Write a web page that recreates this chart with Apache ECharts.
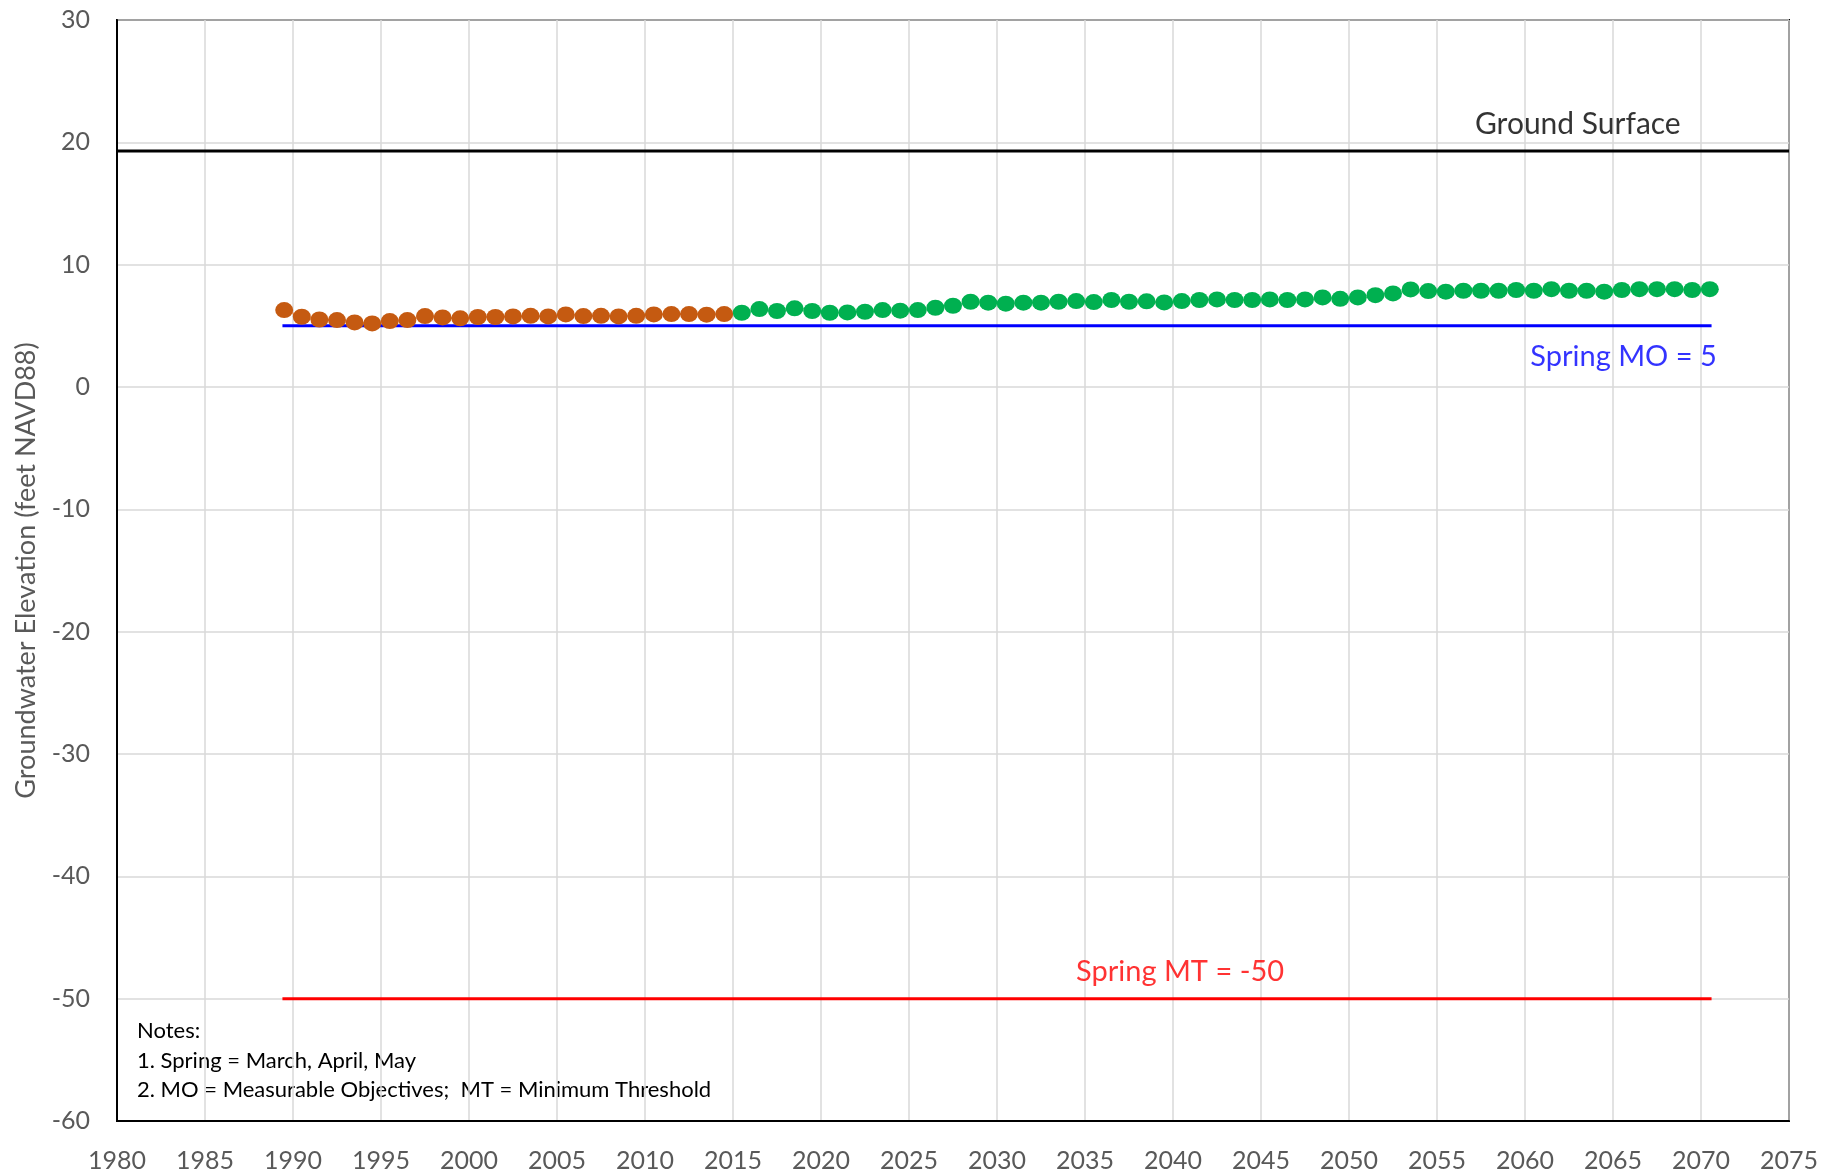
<!DOCTYPE html>
<html>
<head>
<meta charset="utf-8">
<script src="https://cdn.jsdelivr.net/npm/echarts@6/dist/echarts.min.js"></script>
<style>
  html, body { margin: 0; padding: 0; background: #fff; }
  #chart { width: 1843px; height: 1176px; }
</style>
</head>
<body>
<div id="chart"></div>
<script>
// spring groundwater levels, historical (orange) then projected (green)
const histYears = [1989.5, 1990.5, 1991.5, 1992.5, 1993.5, 1994.5, 1995.5, 1996.5, 1997.5, 1998.5,
  1999.5, 2000.5, 2001.5, 2002.5, 2003.5, 2004.5, 2005.5, 2006.5, 2007.5, 2008.5,
  2009.5, 2010.5, 2011.5, 2012.5, 2013.5, 2014.5];
const histLevels = [6.29, 5.74, 5.52, 5.47, 5.28, 5.20, 5.39, 5.47, 5.80, 5.69,
  5.61, 5.72, 5.72, 5.77, 5.82, 5.77, 5.93, 5.80, 5.82, 5.77,
  5.82, 5.93, 5.96, 5.96, 5.91, 5.96];

const projYears = [2015.5, 2016.5, 2017.5, 2018.5, 2019.5, 2020.5, 2021.5, 2022.5, 2023.5, 2024.5,
  2025.5, 2026.5, 2027.5, 2028.5, 2029.5, 2030.5, 2031.5, 2032.5, 2033.5, 2034.5,
  2035.5, 2036.5, 2037.5, 2038.5, 2039.5, 2040.5, 2041.5, 2042.5, 2043.5, 2044.5,
  2045.5, 2046.5, 2047.5, 2048.5, 2049.5, 2050.5, 2051.5, 2052.5, 2053.5, 2054.5,
  2055.5, 2056.5, 2057.5, 2058.5, 2059.5, 2060.5, 2061.5, 2062.5, 2063.5, 2064.5,
  2065.5, 2066.5, 2067.5, 2068.5, 2069.5, 2070.5];
const projLevels = [6.07, 6.37, 6.21, 6.43, 6.21, 6.07, 6.10, 6.15, 6.29, 6.24,
  6.29, 6.48, 6.64, 6.97, 6.89, 6.81, 6.89, 6.89, 6.97, 7.02,
  6.94, 7.11, 6.97, 7.00, 6.91, 7.02, 7.11, 7.16, 7.11, 7.11,
  7.16, 7.11, 7.16, 7.32, 7.21, 7.32, 7.51, 7.65, 7.98, 7.84,
  7.79, 7.87, 7.87, 7.87, 7.93, 7.87, 8.00, 7.87, 7.87, 7.79,
  7.93, 8.00, 8.00, 8.00, 7.93, 8.00];

// reference levels
const groundSurface = 19.3;
const springMO = 5;
const springMT = -50;
const refStart = 1989.4;
const refEnd = 2070.6;

const xTicks = { min: 1980, max: 2075, step: 5 };
const yTicks = { min: -60, max: 30, step: 10 };

const notes = [
  'Notes:',
  '1. Spring = March, April, May',
  '2. MO = Measurable Objectives;  MT = Minimum Threshold'
];

const FONT = 'Lato, "Open Sans", sans-serif';

function pairs(xs, ys) {
  return xs.map((x, i) => [x, ys[i]]);
}

function textPoint(x, y, text, color, size) {
  return {
    type: 'scatter',
    symbolSize: 0,
    silent: true,
    z: 5,
    data: [[x, y]],
    label: {
      show: true,
      position: 'inside',
      formatter: text,
      color: color,
      fontSize: size,
      fontFamily: FONT
    }
  };
}

const chart = echarts.init(document.getElementById('chart'));

const option = {
  animation: false,
  backgroundColor: '#fff',
  grid: {
    left: 117,
    right: 54,
    top: 20,
    bottom: 55,
    show: true,
    borderColor: '#000',
    borderWidth: 2,
    containLabel: false
  },
  xAxis: {
    type: 'value',
    min: xTicks.min,
    max: xTicks.max,
    interval: xTicks.step,
    axisLine: { show: true, onZero: false, lineStyle: { color: '#000', width: 2 } },
    axisTick: { show: false },
    axisLabel: {
      color: '#595959', fontSize: 25, fontFamily: FONT, margin: 27,
      formatter: v => String(v)
    },
    splitLine: { show: true, lineStyle: { color: '#d9d9d9', width: 1.5 } }
  },
  yAxis: {
    type: 'value',
    min: yTicks.min,
    max: yTicks.max,
    interval: yTicks.step,
    name: 'Groundwater Elevation (feet NAVD88)',
    nameLocation: 'middle',
    nameGap: 77,
    nameTextStyle: { color: '#595959', fontSize: 27, fontFamily: FONT },
    axisLine: { show: true, onZero: false, lineStyle: { color: '#000', width: 2 } },
    axisTick: { show: false },
    axisLabel: { color: '#595959', fontSize: 25, fontFamily: FONT, margin: 27 },
    splitLine: { show: true, lineStyle: { color: '#d9d9d9', width: 1.5 } }
  },
  series: [
    {
      name: 'Ground Surface',
      type: 'line',
      symbol: 'none',
      silent: true,
      data: [[xTicks.min, groundSurface], [xTicks.max, groundSurface]],
      lineStyle: { color: '#000', width: 3 },
      z: 3
    },
    {
      name: 'Spring MO',
      type: 'line',
      symbol: 'none',
      silent: true,
      data: [[refStart, springMO], [refEnd, springMO]],
      lineStyle: { color: '#0000ff', width: 3 },
      z: 2
    },
    {
      name: 'Spring MT',
      type: 'line',
      symbol: 'none',
      silent: true,
      data: [[refStart, springMT], [refEnd, springMT]],
      lineStyle: { color: '#ff0000', width: 3 },
      z: 2
    },
    {
      name: 'Historical',
      type: 'line',
      symbol: 'circle',
      symbolSize: [18, 16],
      showAllSymbol: true,
      data: pairs(histYears, histLevels),
      lineStyle: { color: '#f4b183', width: 2 },
      itemStyle: { color: '#c55a11' },
      z: 4
    },
    {
      name: 'Projected',
      type: 'line',
      symbol: 'circle',
      symbolSize: [18, 16],
      showAllSymbol: true,
      data: pairs(projYears, projLevels),
      lineStyle: { color: '#c5e0b4', width: 2 },
      itemStyle: { color: '#00b050' },
      z: 4
    },
    textPoint(2063, 21.5, 'Ground Surface', '#000', 30),
    textPoint(2065.6, 2.5, 'Spring MO = 5', '#0000ff', 29),
    textPoint(2040.4, -47.8, 'Spring MT = -50', '#ff0000', 29)
  ],
  graphic: [
    {
      type: 'group',
      left: 137,
      top: 1020,
      children: notes.map((t, i) => ({
        type: 'text',
        x: 0,
        y: i * 29.5,
        style: { text: t, fill: '#000', fontSize: 22, fontFamily: FONT }
      }))
    }
  ]
};

chart.setOption(option);
</script>
</body>
</html>
